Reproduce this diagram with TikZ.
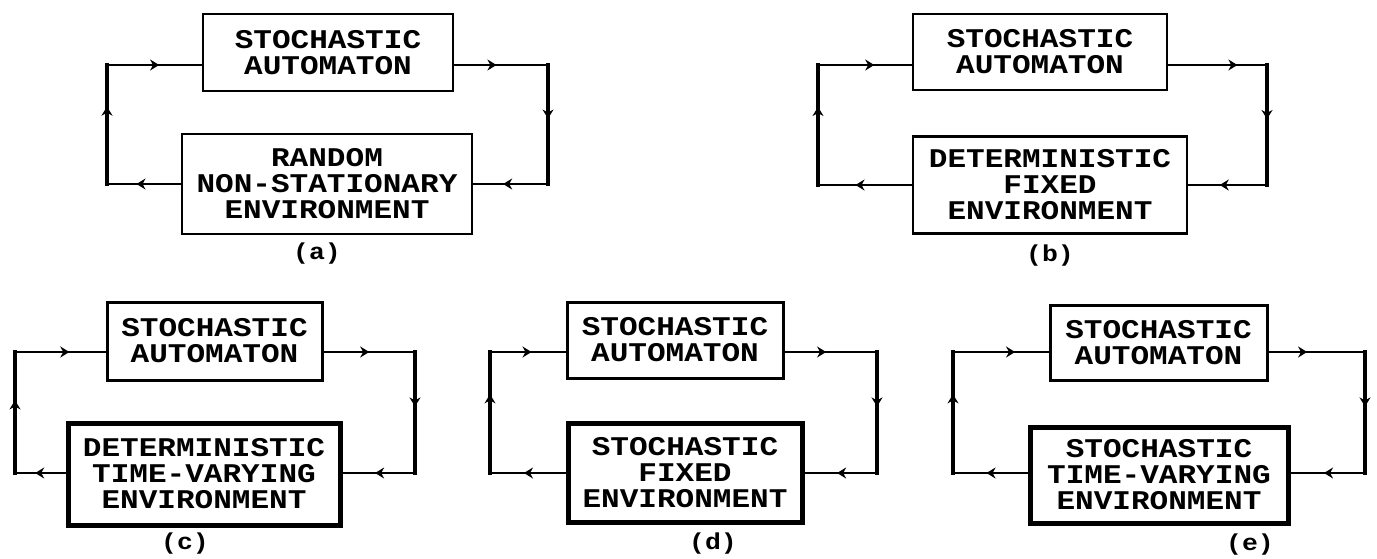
\documentclass[tikz,border=0pt]{standalone}
\usepackage{fontspec}
\newfontfamily\tw[FakeStretch=1.15]{Liberation Mono}
\usetikzlibrary{decorations.markings,arrows.meta}
\tikzset{
  box/.style={draw, line width=2.5pt, inner sep=0pt, align=center,
    font=\tw\bfseries\fontsize{27}{26}\selectfont},
  heavy/.style={line width=5pt},
  mid/.style={line width=3pt},
  conn/.style={line width=2.5pt, line cap=rect},
  vconn/.style={line width=3.5pt, line cap=rect},
  hconn/.style={line width=4.5pt, line cap=rect},
  mk/.style={postaction={decorate, decoration={markings,
    mark=at position #1 with {\arrow{Stealth[length=9pt,width=11pt]}}}}},
  mk/.default=0.5,
  lab/.style={font=\tw\bfseries\fontsize{23}{23}\selectfont},
}
\begin{document}
\begin{tikzpicture}[x=1pt,y=-1pt]
\useasboundingbox (0,0) rectangle (1377,558);

% ---------- (a)
\node[box, minimum width=250pt, minimum height=77pt] (Aa) at (328,52.5) {STOCHASTIC\\AUTOMATON};
\node[box, minimum width=290pt, minimum height=100pt] (Ea) at (327,184) {RANDOM\\NON-STATIONARY\\ENVIRONMENT};
\coordinate (aTL) at (107,65);  \coordinate (aBL) at (107,184);
\coordinate (aTR) at (548,65);  \coordinate (aBR) at (548,184);
\draw[conn,mk=0.55] (aTL) -- (Aa.west |- aTL);
\draw[vconn,mk=0.65] (aBL) -- (aTL);
\draw[conn,mk=0.6] (Ea.west |- aBL) -- (aBL);
\draw[conn,mk=0.45] (Aa.east |- aTR) -- (aTR);
\draw[vconn,mk=0.45] (aTR) -- (aBR);
\draw[conn,mk=0.6] (aBR) -- (Ea.east |- aBR);
\node[lab] (La) at (317,254) {(a)};

% ---------- (b)
\node[box, minimum width=254pt, minimum height=76pt] (Ab) at (1040,52) {STOCHASTIC\\AUTOMATON};
\node[box, minimum width=274pt, minimum height=97pt] (Eb) at (1050,185) {DETERMINISTIC\\FIXED\\ENVIRONMENT};
\coordinate (bTL) at (818,65);  \coordinate (bBL) at (818,185);
\coordinate (bTR) at (1267,65); \coordinate (bBR) at (1267,185);
\draw[conn,mk=0.6] (bTL) -- (Ab.west |- bTL);
\draw[vconn,mk=0.65] (bBL) -- (bTL);
\draw[conn,mk=0.6] (Eb.west |- bBL) -- (bBL);
\draw[conn,mk=0.7] (Ab.east |- bTR) -- (bTR);
\draw[vconn,mk=0.45] (bTR) -- (bBR);
\draw[conn,mk=0.6] (bBR) -- (Eb.east |- bBR);
\node[lab] (Lb) at (1050,256) {(b)};

% ---------- (c)
\node[box, mid, minimum width=215pt, minimum height=78pt] (Ac) at (214.5,341) {STOCHASTIC\\AUTOMATON};
\node[box, heavy, minimum width=272pt, minimum height=102pt] (Ec) at (204,474) {DETERMINISTIC\\TIME-VARYING\\ENVIRONMENT};
\coordinate (cTL) at (15,352);  \coordinate (cBL) at (15,473);
\coordinate (cTR) at (415,352); \coordinate (cBR) at (415,473);
\draw[conn,mk=0.6] (cTL) -- (Ac.west |- cTL);
\draw[hconn,mk=0.6] (cBL) -- (cTL);
\draw[conn,mk=0.6] (Ec.west |- cBL) -- (cBL);
\draw[conn,mk=0.5] (Ac.east |- cTR) -- (cTR);
\draw[hconn,mk=0.45] (cTR) -- (cBR);
\draw[conn,mk=0.55] (cBR) -- (Ec.east |- cBR);
\node[lab] (Lc) at (185,544) {(c)};

% ---------- (d)
\node[box, mid, minimum width=216pt, minimum height=76pt] (Ad) at (675,340) {STOCHASTIC\\AUTOMATON};
\node[box, heavy, minimum width=234pt, minimum height=99pt] (Ed) at (685,472.5) {STOCHASTIC\\FIXED\\ENVIRONMENT};
\coordinate (dTL) at (490,352); \coordinate (dBL) at (490,473);
\coordinate (dTR) at (877,352); \coordinate (dBR) at (877,473);
\draw[conn,mk=0.55] (dTL) -- (Ad.west |- dTL);
\draw[hconn,mk=0.65] (dBL) -- (dTL);
\draw[conn,mk=0.55] (Ed.west |- dBL) -- (dBL);
\draw[conn,mk=0.45] (Ad.east |- dTR) -- (dTR);
\draw[hconn,mk=0.45] (dTR) -- (dBR);
\draw[conn,mk=0.55] (dBR) -- (Ed.east |- dBR);
\node[lab] (Ld) at (713,544) {(d)};

% ---------- (e)
\node[box, mid, minimum width=217pt, minimum height=75pt] (Ae) at (1158.5,342.5) {STOCHASTIC\\AUTOMATON};
\node[box, heavy, minimum width=258pt, minimum height=96pt] (Ee) at (1159,475) {STOCHASTIC\\TIME-VARYING\\ENVIRONMENT};
\coordinate (eTL) at (953,352);  \coordinate (eBL) at (953,473);
\coordinate (eTR) at (1365,352); \coordinate (eBR) at (1365,473);
\draw[conn,mk=0.65] (eTL) -- (Ae.west |- eTL);
\draw[hconn,mk=0.65] (eBL) -- (eTL);
\draw[conn,mk=0.55] (Ee.west |- eBL) -- (eBL);
\draw[conn,mk=0.4] (Ae.east |- eTR) -- (eTR);
\draw[hconn,mk=0.45] (eTR) -- (eBR);
\draw[conn,mk=0.55] (eBR) -- (Ee.east |- eBR);
\node[lab] (Le) at (1250,545) {(e)};
\end{tikzpicture}
\end{document}
